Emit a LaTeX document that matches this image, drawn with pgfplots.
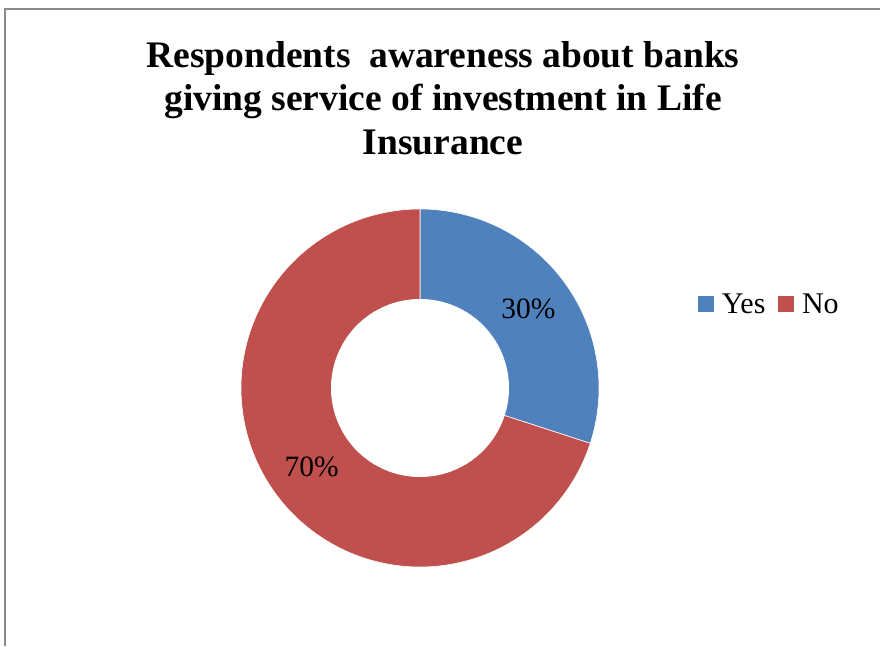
\documentclass[border=0pt]{standalone}
\usepackage{fontspec}
\setmainfont{Liberation Serif}
\usepackage{pgfplots}
\usepackage{pgfplotstable}
\pgfplotsset{compat=1.18}
\definecolor{yesC}{HTML}{4F81BD}
\definecolor{noC}{HTML}{C0504D}
\definecolor{frameC}{HTML}{898989}
\pgfplotstableread{
label value
Yes 30
No 70
}\slices
\begin{document}
\begin{tikzpicture}
\pgfplotstablegetelem{0}{value}\of\slices \let\vYes\pgfplotsretval
\pgfplotstablegetelem{1}{value}\of\slices \let\vNo\pgfplotsretval
\pgfmathsetmacro{\aA}{90}
\pgfmathsetmacro{\aB}{90-3.6*\vYes}
\pgfmathsetmacro{\aC}{\aB-3.6*\vNo}
\pgfmathsetmacro{\mA}{(\aA+\aB)/2}
\pgfmathsetmacro{\mB}{(\aB+\aC)/2}
\useasboundingbox (0,0) rectangle (880pt,646pt);
\begin{axis}[at={(0,0)}, anchor=south west, scale only axis,
  width=880pt, height=646pt, xmin=0, xmax=880, ymin=0, ymax=646,
  hide axis, clip=false,
  legend columns=2,
  legend style={draw=none, fill=none, inner sep=0pt,
    at={(axis cs:697,342)}, anchor=west,
    font=\fontsize{30}{35}\selectfont,
    nodes={inner xsep=0pt, inner ysep=0pt},
    /tikz/every odd column/.append style={column sep=7pt},
    /tikz/every even column/.append style={column sep=12pt}},
  legend image code/.code={\fill[#1] (0pt,-8.5pt) rectangle (17pt,8.5pt);}]
\addplot[fill=yesC, draw=white, line width=0.6pt, domain=\aB:\aA, samples=150, variable=\t]
  ({420+179*cos(\t)},{258+179*sin(\t)}) -- (axis cs:420,258) -- cycle;
\addlegendentry{Yes}
\addplot[fill=noC, draw=white, line width=0.6pt, domain=\aC:\aB, samples=250, variable=\t]
  ({420+179*cos(\t)},{258+179*sin(\t)}) -- (axis cs:420,258) -- cycle;
\addlegendentry{No}
\addplot[fill=white, draw=none, domain=0:360, samples=200, forget plot, variable=\t]
  ({420+89*cos(\t)},{258+89*sin(\t)}) -- cycle;
\node[font=\fontsize{29.5}{34}\selectfont] at (axis cs:{420+134*cos(\mA)},{258+134*sin(\mA)}) {\vYes\%};
\node[font=\fontsize{29.5}{34}\selectfont] at (axis cs:{420+134*cos(\mB)},{258+134*sin(\mB)}) {\vNo\%};
\node[font=\bfseries\fontsize{37.5}{43.5}\selectfont, align=center, anchor=north, inner sep=0pt]
  at (axis cs:443,605) {Respondents\ \ awareness about banks\\giving service of investment in Life\\Insurance};
\end{axis}
\draw[frameC, line width=1.6pt] (5pt,0pt) -- (5pt,637pt) -- (880pt,637pt);
\end{tikzpicture}
\end{document}
